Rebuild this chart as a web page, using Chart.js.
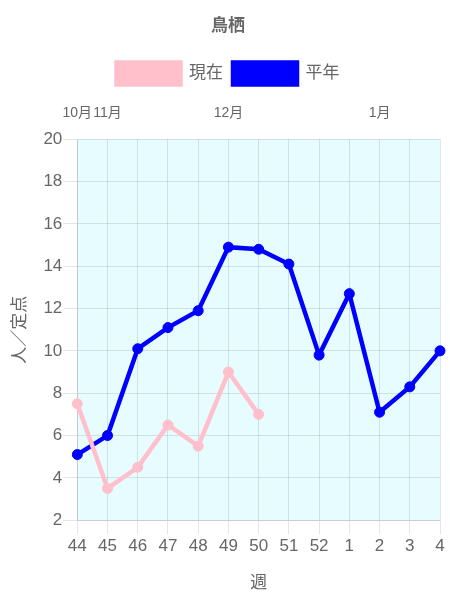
<!DOCTYPE html>
<html>
<head>
<meta charset="utf-8">
<script src="https://cdn.jsdelivr.net/npm/chart.js@4/dist/chart.umd.min.js"></script>
<style>
html,body{margin:0;padding:0;background:#fff;}
#wrap{width:450px;height:600px;}
</style>
</head>
<body>
<div id="wrap"><canvas id="c" width="450" height="600"></canvas></div>
<script>
const weeks = ['44','45','46','47','48','49','50','51','52','1','2','3','4'];
const monthLabels = ['10月','11月','','','','12月','','','','','1月','',''];
const current = [7.5, 3.5, 4.5, 6.5, 5.5, 9.0, 7.0, null, null, null, null, null, null];
const normal = [5.1, 6.0, 10.1, 11.1, 11.9, 14.9, 14.8, 14.1, 9.8, 12.7, 7.1, 8.3, 10.0];

const bgPlugin = {
  id: 'areaBg',
  beforeDraw(chart) {
    const {ctx, chartArea} = chart;
    ctx.save();
    ctx.fillStyle = '#e6fcff';
    ctx.fillRect(chartArea.left, chartArea.top, chartArea.right - chartArea.left, chartArea.bottom - chartArea.top);
    ctx.restore();
  }
};

Chart.defaults.font.family = '"Liberation Sans", Arial, "Noto Sans CJK JP", sans-serif';
Chart.defaults.color = '#666';

new Chart(document.getElementById('c'), {
  type: 'line',
  data: {
    labels: weeks,
    datasets: [
      { label: '現在', data: current, borderColor: 'pink', backgroundColor: 'pink',
        borderWidth: 4.5, pointRadius: 5, pointBorderWidth: 1, fill: false, tension: 0 },
      { label: '平年', data: normal, borderColor: 'blue', backgroundColor: 'blue',
        borderWidth: 4.5, pointRadius: 5, pointBorderWidth: 1, fill: false, tension: 0 }
    ]
  },
  options: {
    responsive: false,
    animation: false,
    layout: { padding: { left: 6, bottom: 2 } },
    plugins: {
      title: { display: true, text: '鳥栖', font: { size: 17, weight: 'bold' }, padding: { top: 16, bottom: 16 } },
      legend: { labels: { font: { size: 17 }, boxWidth: 64, boxHeight: 22, padding: 10 } }
    },
    scales: {
      x: {
        grid: { tickLength: 14 },
        ticks: { font: { size: 17 }, padding: 2 },
        title: { display: true, text: '週', font: { size: 17 }, padding: { top: 15, bottom: 4 } }
      },
      x2: {
        position: 'top',
        type: 'category',
        labels: monthLabels,
        grid: { display: false },
        border: { display: false },
        ticks: { font: { size: 14 }, autoSkip: false, maxRotation: 0, padding: 10 }
      },
      y: {
        min: 2, max: 20,
        grid: { tickLength: 14 },
        ticks: { stepSize: 2, font: { size: 17 }, padding: 1 },
        title: { display: true, text: '人／定点', font: { size: 17 }, padding: { top: 4, bottom: 12 } }
      }
    }
  },
  plugins: [bgPlugin]
});
</script>
</body>
</html>
